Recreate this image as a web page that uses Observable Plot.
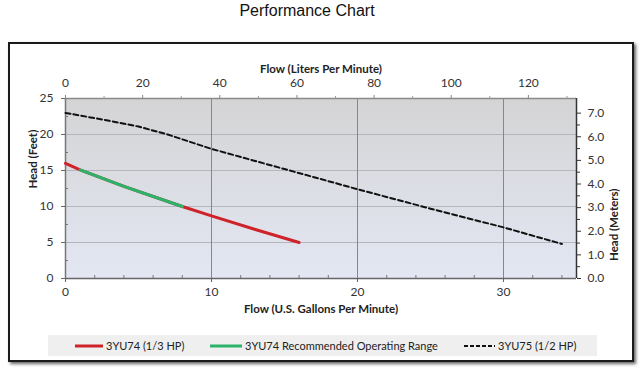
<!DOCTYPE html>
<html>
<head>
<meta charset="utf-8">
<script src="https://cdn.jsdelivr.net/npm/d3@7"></script>
<script src="https://cdn.jsdelivr.net/npm/@observablehq/plot@0.6"></script>
<style>
  html, body { margin: 0; padding: 0; background: #fff; }
  #wrap { position: relative; width: 640px; height: 373px; overflow: hidden; background: #fff; font-family: Lato, "Open Sans", sans-serif; }
  #title { position: absolute; left: 0; width: 614px; top: 2px; text-align: center; font-family: "Liberation Sans", Arial, sans-serif; font-size: 16px; color: #111; }
  #frame { position: absolute; left: 8px; top: 42px; width: 622px; height: 316px; border: 2px solid #1a1a1a; box-shadow: 2px 2px 3px #666; background: #fff; }
  #chart { position: absolute; left: 0; top: 0; }
  #legend { position: absolute; left: 48px; top: 335px; width: 549px; height: 21px; background: #efefef; font-family: Lato, sans-serif; font-size: 11px; color: #222; }
  .item { position: absolute; top: 0; height: 21px; display: flex; align-items: center; }
  .item svg { margin-right: 3px; }
</style>
</head>
<body>
<div id="wrap">
  <div id="frame"></div>
  <div id="title">Performance Chart</div>
  <div id="chart"></div>
  <div id="legend"></div>
</div>
<script>
// ---- Data ----
const seriesNames = ["3YU74 (1/3 HP)", "3YU74 Recommended Operating Range", "3YU75 (1/2 HP)"];
const seriesColors = ["#cf2229", "#2bb36a", "#111111"];

// 3YU74 (1/3 HP) – flow in US gpm, head in feet
const gpmRed  = [0, 1, 4, 8, 10, 13, 16];
const feetRed = [16, 15.1, 12.8, 10.0, 8.7, 6.8, 5.0];

// 3YU74 Recommended Operating Range
const gpmGreen  = [1, 4, 8];
const feetGreen = [15.1, 12.8, 10.0];

// 3YU75 (1/2 HP)
const gpmBlack  = [0, 3, 5, 7, 10, 15, 20, 25, 30, 34];
const feetBlack = [23.0, 21.9, 21.1, 20.0, 18.0, 15.2, 12.4, 9.7, 7.1, 4.8];

// Axis ticks
const gpmTicks = [0, 10, 20, 30];
const gpmMinor = [2, 4, 6, 8, 12, 14, 16, 18, 22, 24, 26, 28, 32, 34];
const feetTicks = [0, 5, 10, 15, 20, 25];
const feetMinor = [2.5, 7.5, 12.5, 17.5, 22.5];
const lpmTicks = [0, 20, 40, 60, 80, 100, 120];
const lpmMinor = [10, 30, 50, 70, 90, 110, 130];
const meterTicks = [0, 1, 2, 3, 4, 5, 6, 7];
const meterMinor = [0.5, 1.5, 2.5, 3.5, 4.5, 5.5, 6.5];

const LPM_PER_GPM = 3.785;
const M_PER_FT = 0.3048;

const red = gpmRed.map((g, i) => ({gpm: g, ft: feetRed[i]}));
const green = gpmGreen.map((g, i) => ({gpm: g, ft: feetGreen[i]}));
const black = gpmBlack.map((g, i) => ({gpm: g, ft: feetBlack[i]}));

const blank = () => "";

const plot = Plot.plot({
  width: 640,
  height: 373,
  marginLeft: 65,
  marginRight: 64,
  marginTop: 98,
  marginBottom: 95,
  style: {background: "transparent", fontFamily: "Lato, sans-serif", fontSize: "12px", color: "#333", overflow: "visible"},
  x: {domain: [0, 35]},
  y: {domain: [0, 25]},
  marks: [
    Plot.frame({fill: "url(#plotbg)", stroke: "none"}),
    Plot.ruleY(feetTicks.filter(d => d > 0 && d < 25), {y: d => d, stroke: "#b4b6bc", strokeWidth: 1}),
    Plot.ruleX(gpmTicks.filter(d => d > 0), {x: d => d, stroke: "#85878c", strokeWidth: 1}),
    // plot-area edges
    Plot.ruleY([25], {y: d => d, stroke: "#8a8a8a", strokeWidth: 1.5}),
    Plot.ruleX([35], {x: d => d, stroke: "#333", strokeWidth: 1.5}),
    Plot.ruleY([0], {y: d => d, stroke: "#666", strokeWidth: 1.5}),
    Plot.ruleX([0], {x: d => d, stroke: "#777", strokeWidth: 1.5}),
    // series
    Plot.line(red, {x: "gpm", y: "ft", stroke: seriesColors[0], strokeWidth: 3}),
    Plot.line(green, {x: "gpm", y: "ft", stroke: seriesColors[1], strokeWidth: 3}),
    Plot.line(black, {x: "gpm", y: "ft", stroke: seriesColors[2], strokeWidth: 2, strokeDasharray: "5,3"}),
    // bottom axis (gpm)
    Plot.axisX({anchor: "bottom", ticks: gpmTicks, tickSize: 4, tickPadding: 5, tickFormat: d => d, label: null, stroke: "#666"}),
    Plot.axisX({anchor: "bottom", ticks: gpmMinor, tickSize: -3, tickFormat: blank, label: null, stroke: "#777"}),
    // top axis (liters per minute)
    Plot.axisX({anchor: "top", ticks: lpmTicks.map(l => l / LPM_PER_GPM), tickSize: 4, tickPadding: 8, tickFormat: d => Math.round(d * LPM_PER_GPM), label: null, stroke: "#888"}),
    Plot.axisX({anchor: "top", ticks: lpmMinor.map(l => l / LPM_PER_GPM), tickSize: 3, tickFormat: blank, label: null, stroke: "#999"}),
    // left axis (feet)
    Plot.axisY({anchor: "left", ticks: feetTicks, tickSize: 4, tickPadding: 8, tickFormat: d => d, label: null, stroke: "#666"}),
    Plot.axisY({anchor: "left", ticks: feetMinor, tickSize: -3, tickFormat: blank, label: null, stroke: "#777"}),
    // right axis (meters)
    Plot.axisY({anchor: "right", ticks: meterTicks.map(m => m / M_PER_FT), tickSize: 4, tickPadding: 7, tickFormat: d => (d * M_PER_FT).toFixed(1), label: null, stroke: "#333"}),
    Plot.axisY({anchor: "right", ticks: meterMinor.map(m => m / M_PER_FT), tickSize: 3, tickFormat: blank, label: null, stroke: "#333"}),
    // axis titles
    Plot.text(["Flow (U.S. Gallons Per Minute)"], {frameAnchor: "bottom", dy: 34, fontWeight: "bold", fontSize: 11.5, fill: "#222"}),
    Plot.text(["Flow (Liters Per Minute)"], {frameAnchor: "top", dy: -34, fontWeight: "bold", fontSize: 11.5, fill: "#222"}),
    Plot.text(["Head (Feet)"], {frameAnchor: "left", dx: -32, rotate: -90, fontWeight: "bold", fontSize: 11.5, fill: "#222"}),
    Plot.text(["Head (Meters)"], {frameAnchor: "right", dx: 38, rotate: -90, fontWeight: "bold", fontSize: 11.5, fill: "#222"})
  ]
});

// gradient background for the plot area
const defs = d3.select(plot).insert("defs", ":first-child");
const grad = defs.append("linearGradient").attr("id", "plotbg").attr("x1", 0).attr("y1", 0).attr("x2", 0).attr("y2", 1);
grad.append("stop").attr("offset", "0%").attr("stop-color", "#d4d4d5");
grad.append("stop").attr("offset", "100%").attr("stop-color", "#e3e7f3");

document.getElementById("chart").appendChild(plot);

// legend
const legendPos = [
  {left: 27, w: 28},
  {left: 162, w: 32},
  {left: 416, w: 31}
];
const legend = document.getElementById("legend");
seriesNames.forEach((name, i) => {
  const item = document.createElement("div");
  item.className = "item";
  item.style.left = legendPos[i].left + "px";
  const w = legendPos[i].w;
  const dash = i === 2 ? ' stroke-dasharray="4,2"' : '';
  const sw = i === 2 ? 2 : 3;
  item.innerHTML = `<svg width="${w}" height="8"><line x1="0" y1="4" x2="${w}" y2="4" stroke="${seriesColors[i]}" stroke-width="${sw}"${dash}/></svg><span>${name}</span>`;
  legend.appendChild(item);
});
</script>
</body>
</html>
